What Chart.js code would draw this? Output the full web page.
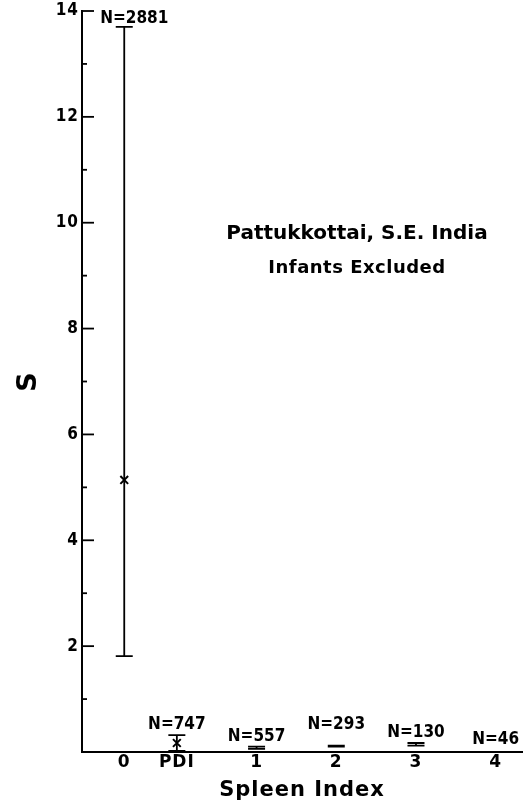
<!DOCTYPE html>
<html>
<head>
<meta charset="utf-8">
<script src="https://cdn.jsdelivr.net/npm/chart.js@4.4.1/dist/chart.umd.min.js"></script>
<style>
html, body { margin: 0; padding: 0; background: #fff; }
</style>
</head>
<body>
<canvas id="chart" width="530" height="807"></canvas>
<script>
// Spleen index vs S, Pattukkottai

const categories = ['0', 'PDI', '1', '2', '3', '4'];
const xPositions = [-0.66, 0, 1, 2, 3, 4];
const meanS = [5.14, 0.17, null, null, null, null];
const upperS = [13.7, 0.32, 0.10, 0.12, 0.17, null];
const lowerS = [1.81, 0.02, 0.06, 0.10, 0.12, null];
const sampleN = [2881, 747, 557, 293, 130, 46];
const yTicks = [0, 1, 2, 3, 4, 5, 6, 7, 8, 9, 10, 11, 12, 13, 14];

const FONT = '"DejaVu Sans", sans-serif';
const FONT_C = '"DejaVu Sans Condensed", "DejaVu Sans", sans-serif';

// wide lettering like the original stencil
const spacing = {
    id: 'spacing',
    beforeDraw(chart) { chart.ctx.letterSpacing = '1px'; },
    afterDraw(chart) { chart.ctx.letterSpacing = '0px'; }
};

const errorBars = {
    id: 'errorBars',
    afterDatasetsDraw(chart) {
        const { ctx, scales: { x, y } } = chart;
        ctx.save();
        ctx.strokeStyle = '#000';
        ctx.lineWidth = 1.8;
        xPositions.forEach((pos, i) => {
            if (upperS[i] == null) return;
            const px = x.getPixelForValue(pos);
            const top = y.getPixelForValue(upperS[i]);
            const bot = y.getPixelForValue(lowerS[i]);
            const half = 8.5;
            ctx.beginPath();
            ctx.moveTo(px, top); ctx.lineTo(px, bot);
            ctx.moveTo(px - half, top); ctx.lineTo(px + half, top);
            ctx.moveTo(px - half, bot); ctx.lineTo(px + half, bot);
            ctx.stroke();
        });
        ctx.restore();
    }
};

const nLabels = {
    id: 'nLabels',
    afterDraw(chart, args, opts) {
        const { ctx, scales: { x, y } } = chart;
        ctx.save();
        ctx.fillStyle = '#000';
        ctx.letterSpacing = '0px';
        ctx.font = 'bold 17px ' + FONT_C;
        ctx.textAlign = 'center';
        ctx.textBaseline = 'middle';
        sampleN.forEach((n, i) => {
            const px = x.getPixelForValue(xPositions[i]) + (opts.dx[i] || 0);
            const ref = upperS[i] == null ? 0 : upperS[i];
            const py = y.getPixelForValue(ref) - opts.dy[i];
            ctx.fillText('N=' + n, px, py);
        });
        ctx.restore();
    }
};

const inwardTicks = {
    id: 'inwardTicks',
    afterDraw(chart) {
        const { ctx, chartArea, scales: { y } } = chart;
        ctx.save();
        ctx.strokeStyle = '#000';
        ctx.lineWidth = 1.8;
        y.ticks.forEach(t => {
            if (t.value === 0) return;
            const py = y.getPixelForValue(t.value);
            const len = t.value % 2 === 0 ? 12 : 5;
            ctx.beginPath();
            ctx.moveTo(chartArea.left, py);
            ctx.lineTo(chartArea.left + len, py);
            ctx.stroke();
        });
        ctx.restore();
    }
};

const insetTitle = {
    id: 'insetTitle',
    afterDraw(chart) {
        const { ctx, chartArea } = chart;
        const cx = chartArea.left + chartArea.width * 0.625;
        ctx.save();
        ctx.fillStyle = '#000';
        ctx.letterSpacing = '0px';
        ctx.textAlign = 'center';
        ctx.textBaseline = 'middle';
        ctx.font = 'bold 20px ' + FONT;
        ctx.fillText('Pattukkottai, S.E. India', cx, 234);
        ctx.letterSpacing = '0.5px';
        ctx.font = 'bold 18px ' + FONT;
        ctx.fillText('Infants Excluded', cx, 268);
        ctx.restore();
    }
};

new Chart(document.getElementById('chart'), {
    type: 'scatter',
    data: {
        datasets: [{
            data: xPositions.map((v, i) => ({ x: v, y: meanS[i] })),
            pointStyle: 'crossRot',
            pointRadius: 5.5,
            borderColor: '#000',
            borderWidth: 2,
            clip: false
        }]
    },
    options: {
        responsive: false,
        animation: false,
        layout: { padding: { top: 11, right: 8, left: 0, bottom: 0 } },
        plugins: {
            legend: { display: false },
            tooltip: { enabled: false },
            nLabels: {
                dx: [10, 0, 0, 0, 0, 0],
                dy: [8, 10, 10, 21, 10, 12]
            }
        },
        scales: {
            x: {
                type: 'linear',
                min: -1.19,
                max: 4.33,
                afterBuildTicks: scale => {
                    scale.ticks = xPositions.map(v => ({ value: v }));
                },
                afterFit: scale => {
                    scale.height = 55;
                    scale.paddingLeft = 0;
                    scale.paddingRight = 0;
                },
                ticks: {
                    autoSkip: false,
                    maxRotation: 0,
                    color: '#000',
                    padding: 0,
                    font: { family: FONT, size: 17, weight: 'bold' },
                    callback: (value, index) => categories[index]
                },
                grid: { display: false, drawTicks: false },
                border: { display: true, color: '#000', width: 2 },
                title: {
                    display: true,
                    text: 'Spleen Index',
                    color: '#000',
                    font: { family: FONT, size: 21, weight: 'bold' },
                    padding: { top: 4, bottom: 4 }
                }
            },
            y: {
                min: 0,
                max: 14,
                afterBuildTicks: scale => {
                    scale.ticks = yTicks.map(v => ({ value: v }));
                },
                afterFit: scale => {
                    scale.width = 82;
                    scale.paddingTop = 0;
                    scale.paddingBottom = 0;
                },
                ticks: {
                    color: '#000',
                    padding: 3,
                    font: { family: FONT_C, size: 17, weight: 'bold' },
                    callback: v => (v > 0 && v % 2 === 0) ? String(v) : ''
                },
                grid: { display: false, drawTicks: false },
                border: { display: true, color: '#000', width: 2 },
                title: {
                    display: true,
                    text: 'S',
                    color: '#000',
                    font: { family: FONT, size: 27, weight: 'bold' },
                    padding: { top: 13, bottom: 0 }
                }
            }
        }
    },
    plugins: [spacing, errorBars, nLabels, inwardTicks, insetTitle]
});
</script>
</body>
</html>
